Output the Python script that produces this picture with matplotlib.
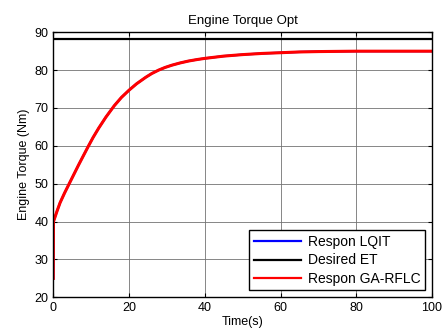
import numpy as np
from matplotlib import pyplot as plt

plt.rcParams['font.family'] = ['Liberation Sans', 'DejaVu Sans']

# values
t = [0, 0.05, 1, 1.8, 3, 4.2, 5.5, 6.7, 8, 9.2, 10.5, 12, 13.9, 16.1, 18, 20,
     22, 24.4, 26, 27.8, 29.5, 31.3, 33.5, 35.7, 38, 40, 42.5, 45, 50, 55, 60,
     65, 70, 80, 90, 100]
torque = [25, 40, 42.8, 45, 47.6, 50, 52.6, 55, 57.5, 59.8, 62.2, 64.7, 67.6,
          70.6, 72.8, 74.7, 76.4, 78.1, 79.1, 80.0, 80.7, 81.3, 81.9, 82.4,
          82.8, 83.1, 83.4, 83.7, 84.1, 84.4, 84.6, 84.8, 84.9, 85.0, 85.0, 85.0]
desired = 88.3
t_lim = [0, 100]

fig = plt.figure(figsize=(4.44, 3.36), dpi=100)
ax = fig.add_axes([0.12, 0.115, 0.853, 0.789])

ax.plot(t, torque, color='#0000ff', lw=1.6, label='Respon LQIT')
ax.plot(t_lim, [desired, desired], color='black', lw=1.6, label='Desired ET')
ax.plot(t, torque, color='#ff0000', lw=2.2, label='Respon GA-RFLC')

ax.set_xlim(0, 100)
ax.set_ylim(20, 90)
ax.set_xticks(np.arange(0, 101, 20))
ax.set_yticks(np.arange(20, 91, 10))
ax.grid(True, color='0.45', lw=0.6)
ax.tick_params(direction='in', top=True, right=True, labelsize=9, length=3)
for s in ax.spines.values():
    s.set_linewidth(1.0)

ax.set_title('Engine Torque Opt', fontsize=9.5, pad=6)
ax.set_xlabel('Time(s)', fontsize=9, labelpad=1)
ax.set_ylabel('Engine Torque (Nm)', fontsize=9, labelpad=3)

leg = ax.legend(loc='lower right', fontsize=10, fancybox=False, framealpha=1,
                edgecolor='black', borderpad=0.35, labelspacing=0.3,
                handlelength=3.4, handletextpad=0.45, borderaxespad=0.5)
leg.get_frame().set_linewidth(1.0)
for h in leg.get_lines():
    h.set_linewidth(1.6)

fig.savefig('out.png', dpi=100)
